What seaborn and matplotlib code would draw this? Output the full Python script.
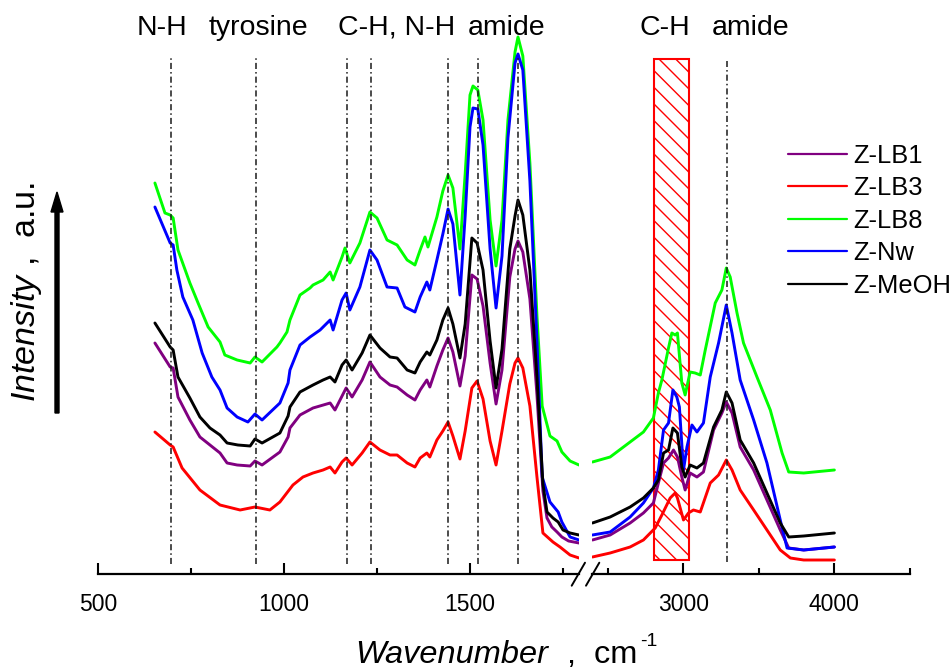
import matplotlib
matplotlib.use('Agg')
import matplotlib.pyplot as plt
import seaborn as sns
import pandas as pd
from matplotlib.patches import Rectangle, FancyArrow
from matplotlib.lines import Line2D

# sample names and colours (legend order)
samples = ['Z-LB1', 'Z-LB3', 'Z-LB8', 'Z-Nw', 'Z-MeOH']
colors = ['#800080', '#ff0000', '#00ff00', '#0000ff', '#000000']

# ---- low wavenumber part (500-1800 cm-1) ----
wn_lo_lb1 = [653, 694, 702, 715, 747, 774, 801, 828, 847, 874, 909, 922, 941, 989, 1011, 1016, 1043, 1078, 1124, 1137,
             1167, 1183, 1210, 1231, 1258, 1285, 1304, 1331, 1352, 1366, 1384, 1392, 1411, 1427, 1441, 1454, 1473, 1487,
             1505, 1519, 1535, 1554, 1570, 1586, 1607, 1621, 1629, 1642, 1661, 1680, 1696, 1707, 1720, 1734, 1747, 1765, 1793]
i_lo_lb1 = [231, 207, 206, 177, 154, 137, 129, 121, 111, 109, 108, 113, 109, 122, 137, 146, 159, 166, 171, 164,
            186, 177, 194, 212, 197, 189, 187, 179, 174, 184, 194, 187, 208, 224, 236, 222, 188, 218,
            299, 295, 268, 211, 170, 204, 297, 325, 333, 322, 275, 179, 83, 56, 47, 42, 37, 33, 31]

wn_lo_lb3 = [653, 694, 702, 726, 774, 828, 882, 922, 962, 989, 1024, 1051, 1078, 1105, 1124, 1137, 1156, 1167, 1183, 1210,
             1231, 1258, 1285, 1304, 1331, 1352, 1366, 1384, 1392, 1411, 1427, 1441, 1454, 1473, 1487, 1505, 1519, 1535,
             1554, 1570, 1586, 1607, 1621, 1629, 1642, 1661, 1680, 1696, 1723, 1742, 1769, 1793]
i_lo_lb3 = [142, 129, 127, 106, 84, 69, 64, 67, 64, 72, 89, 97, 101, 104, 107, 101, 112, 116, 109, 121,
            132, 124, 119, 119, 111, 107, 116, 121, 117, 134, 143, 152, 138, 115, 143, 186, 193, 175,
            133, 109, 143, 190, 211, 216, 206, 168, 97, 41, 32, 27, 19, 16]

wn_lo_lb8 = [653, 680, 694, 702, 715, 747, 769, 796, 828, 841, 874, 909, 922, 941, 981, 989, 1008, 1016, 1043, 1070,
             1078, 1105, 1124, 1132, 1156, 1164, 1177, 1204, 1231, 1250, 1277, 1304, 1331, 1352, 1366, 1379, 1387, 1411,
             1427, 1441, 1454, 1473, 1487, 1500, 1508, 1521, 1535, 1554, 1570, 1586, 1602, 1621, 1629, 1642, 1661, 1680,
             1694, 1715, 1734, 1747, 1769, 1793]
i_lo_lb8 = [391, 361, 359, 356, 324, 291, 271, 247, 232, 219, 214, 211, 217, 212, 227, 231, 242, 254, 279, 286,
            289, 294, 302, 294, 317, 326, 311, 331, 362, 356, 334, 329, 314, 309, 324, 337, 327, 357,
            383, 399, 386, 325, 400, 479, 488, 484, 454, 354, 308, 354, 454, 522, 537, 518, 411, 258,
            168, 138, 133, 122, 113, 109]

wn_lo_nw = [653, 694, 702, 712, 728, 755, 780, 806, 828, 847, 874, 903, 922, 941, 989, 1011, 1016, 1043, 1070, 1097,
            1124, 1132, 1156, 1167, 1177, 1204, 1231, 1250, 1277, 1304, 1325, 1352, 1366, 1384, 1392, 1411, 1427, 1441,
            1454, 1473, 1487, 1500, 1508, 1521, 1535, 1554, 1570, 1586, 1602, 1621, 1629, 1642, 1661, 1680, 1694, 1715,
            1737, 1747, 1769, 1793]
i_lo_nw = [367, 331, 329, 304, 277, 254, 221, 197, 184, 166, 157, 152, 160, 154, 171, 191, 204, 229, 237, 244,
           254, 244, 274, 281, 264, 287, 324, 314, 287, 286, 267, 262, 277, 292, 284, 314, 340, 365,
           350, 279, 358, 447, 466, 465, 429, 325, 266, 318, 436, 511, 520, 504, 393, 233, 97, 72,
           62, 52, 37, 34]

wn_lo_meoh = [653, 694, 702, 715, 747, 774, 801, 828, 847, 876, 909, 922, 941, 989, 1011, 1016, 1043, 1078, 1105, 1124,
              1137, 1156, 1167, 1183, 1210, 1231, 1258, 1285, 1304, 1331, 1352, 1366, 1384, 1392, 1411, 1427, 1441, 1454,
              1473, 1487, 1505, 1519, 1535, 1554, 1570, 1586, 1607, 1621, 1629, 1642, 1661, 1680, 1696, 1707, 1723, 1737,
              1750, 1769, 1793]
i_lo_meoh = [251, 227, 224, 197, 176, 157, 146, 139, 131, 129, 128, 135, 131, 141, 158, 167, 182, 189, 194, 197,
             192, 209, 214, 204, 221, 239, 226, 217, 216, 204, 201, 212, 222, 219, 234, 254, 266, 250,
             216, 250, 336, 331, 304, 233, 186, 225, 325, 358, 374, 359, 304, 197, 90, 62, 56, 52,
             44, 41, 39]

# ---- high wavenumber part (2400-4000 cm-1) ----
wn_hi_lb1 = [2400, 2517, 2649, 2737, 2803, 2836, 2870, 2903, 2936, 2962, 2991, 3013, 3046, 3091, 3134, 3201, 3256, 3285,
             3323, 3377, 3466, 3554, 3642, 3698, 3797, 4000]
i_hi_lb1 = [34, 39, 51, 61, 71, 91, 111, 116, 124, 117, 97, 84, 101, 97, 102, 144, 161, 172,
            161, 127, 104, 74, 44, 26, 24, 27]

wn_hi_lb3 = [2400, 2517, 2649, 2737, 2815, 2859, 2914, 2947, 2962, 3002, 3035, 3068, 3113, 3179, 3234, 3285, 3323, 3377,
             3466, 3554, 3642, 3709, 3797, 4000]
i_hi_lb3 = [17, 21, 27, 34, 46, 59, 76, 81, 76, 54, 61, 64, 62, 91, 99, 114, 104, 84,
            64, 44, 24, 16, 14, 14]

wn_hi_lb8 = [2400, 2517, 2649, 2737, 2803, 2836, 2859, 2903, 2925, 2947, 2962, 2991, 3013, 3046, 3079, 3113, 3146, 3212,
             3256, 3285, 3311, 3356, 3399, 3488, 3576, 3654, 3698, 3797, 4000]
i_hi_lb8 = [112, 117, 132, 142, 156, 181, 194, 226, 241, 239, 241, 191, 179, 202, 201, 199, 224, 271,
            284, 306, 297, 261, 231, 197, 164, 121, 102, 101, 104]

wn_hi_nw = [2400, 2517, 2649, 2737, 2803, 2836, 2870, 2903, 2932, 2958, 2975, 3002, 3025, 3058, 3091, 3134, 3179, 3234,
            3285, 3323, 3377, 3466, 3554, 3642, 3687, 3797, 4000]
i_hi_nw = [39, 42, 57, 71, 86, 104, 144, 151, 184, 177, 167, 104, 127, 149, 142, 151, 197, 231,
           269, 241, 194, 154, 111, 54, 26, 24, 27]

wn_hi_meoh = [2400, 2517, 2649, 2737, 2803, 2836, 2870, 2903, 2932, 2962, 2991, 3013, 3046, 3091, 3134, 3201, 3256, 3285,
              3323, 3377, 3466, 3554, 3642, 3698, 3797, 4000]
i_hi_meoh = [51, 57, 67, 76, 86, 94, 121, 124, 146, 141, 107, 97, 109, 106, 111, 147, 164, 182,
             171, 134, 111, 81, 51, 37, 38, 41]

# band positions (dash-dot markers)
bands_lo = [695, 924, 1170, 1234, 1442, 1521, 1630]
bands_hi = [3289]
ch_region = (2810, 3040)

# band labels: (text, x pixel centre)
band_labels = [('N-H', 162), ('tyrosine', 258), ('C-H, N-H', 397), ('amide', 507), ('C-H', 665), ('amide', 751)]


def to_long(wns, ints):
    frames = []
    for s, w, i in zip(samples, wns, ints):
        frames.append(pd.DataFrame({'wn': w, 'I': i, 'sample': s}))
    return pd.concat(frames, ignore_index=True)


lo = to_long([wn_lo_lb1, wn_lo_lb3, wn_lo_lb8, wn_lo_nw, wn_lo_meoh],
             [i_lo_lb1, i_lo_lb3, i_lo_lb8, i_lo_nw, i_lo_meoh])
hi = to_long([wn_hi_lb1, wn_hi_lb3, wn_hi_lb8, wn_hi_nw, wn_hi_meoh],
             [i_hi_lb1, i_hi_lb3, i_hi_lb8, i_hi_nw, i_hi_meoh])

sns.set_theme(style='white')
plt.rcParams['font.family'] = ['Liberation Sans', 'DejaVu Sans']
plt.rcParams['text.color'] = 'black'
plt.rcParams['xtick.color'] = 'black'
plt.rcParams['mathtext.fontset'] = 'custom'
plt.rcParams['mathtext.rm'] = 'Liberation Sans'
plt.rcParams['mathtext.it'] = 'Liberation Sans:italic'
plt.rcParams['hatch.linewidth'] = 1.0

W, H = 953, 669
fig = plt.figure(figsize=(W / 100, H / 100), dpi=100)


def px_box(x0, x1, ytop, ybot):
    return [x0 / W, 1 - ybot / H, (x1 - x0) / W, (ybot - ytop) / H]


ax_lo = fig.add_axes(px_box(98, 579, 20, 574))
ax_hi = fig.add_axes(px_box(592, 910, 20, 574))
pal = dict(zip(samples, colors))

sns.lineplot(data=lo, x='wn', y='I', hue='sample', hue_order=samples, palette=pal,
             sort=False, estimator=None, lw=2.1, ax=ax_lo)
sns.lineplot(data=hi, x='wn', y='I', hue='sample', hue_order=samples, palette=pal,
             sort=False, estimator=None, lw=2.1, ax=ax_hi, legend=False)
for ax in (ax_lo, ax_hi):
    for ln in ax.get_lines():
        ln.set_solid_joinstyle('round')

handles, labels = ax_lo.get_legend_handles_labels()
ax_lo.get_legend().remove()

dashdot = (0, (4, 2, 1, 2))
ax_lo.vlines(bands_lo, 10, 516, colors='k', lw=1.1, linestyles=dashdot)
ax_hi.vlines(bands_hi, 12, 513, colors='k', lw=1.1, linestyles=dashdot)
ax_hi.add_patch(Rectangle((ch_region[0], 14), ch_region[1] - ch_region[0], 501,
                          fill=False, edgecolor='red', hatch='\\\\', lw=1.5))

ax_lo.set_xlim(500, 1793)
ax_hi.set_xlim(2397, 4500)
ax_lo.set_xticks([500, 1000, 1500])
ax_lo.set_xticks([750, 1250, 1750], minor=True)
ax_hi.set_xticks([3000, 4000])
ax_hi.set_xticks([2500, 3500, 4500], minor=True)

for ax in (ax_lo, ax_hi):
    ax.set_ylim(0, 554)
    ax.set_yticks([])
    ax.set_xlabel('')
    ax.set_ylabel('')
    ax.patch.set_visible(False)
    for side in ('left', 'right', 'top'):
        ax.spines[side].set_visible(False)
    ax.spines['bottom'].set_linewidth(1.6)
    ax.spines['bottom'].set_color('black')
    ax.tick_params(axis='x', which='major', direction='in', length=8, width=1.5,
                   labelsize=16.5, pad=14, colors='black', bottom=True)
    ax.tick_params(axis='x', which='minor', direction='in', length=4, width=1.5, bottom=True)

# broken axis marks
for x0 in (571.7, 586.0):
    fig.add_artist(Line2D([x0 / W, (x0 + 13.3) / W], [1 - 585.7 / H, 1 - 562.7 / H], color='black', lw=1.4))

for txt, xc in band_labels:
    fig.text(xc / W, 1 - 35 / H, txt, ha='center', va='baseline', fontsize=20.5)

leg = fig.legend(handles, labels, loc='upper left', bbox_to_anchor=(788 / W, 1 - 144 / H),
                 frameon=False, fontsize=18.4, handlelength=2.3, handletextpad=0.25,
                 labelspacing=0.33, borderpad=0, borderaxespad=0)
for h in leg.legend_handles:
    h.set_linewidth(1.6)

# axis titles
fig.text(355 / W, 1 - 663 / H, 'Wavenumber', fontstyle='italic', ha='left', va='baseline', fontsize=23.4)
fig.text(567 / W, 1 - 663 / H, ',  cm', ha='left', va='baseline', fontsize=23.4)
fig.text(640 / W, 1 - 646 / H, '-1', ha='left', va='baseline', fontsize=14)
fig.text(27 / W, 1 - 292 / H, r'$\mathit{Intensity}$ ,  a.u.', rotation=90, ha='center', va='center', fontsize=24.5)

fig.add_artist(FancyArrow(57 / W, 1 - 413 / H, 0, (413 - 192) / H, width=4 / W, head_width=12 / W,
                          head_length=20 / H, length_includes_head=True, color='black', transform=fig.transFigure))

fig.savefig('out.png', dpi=100)
